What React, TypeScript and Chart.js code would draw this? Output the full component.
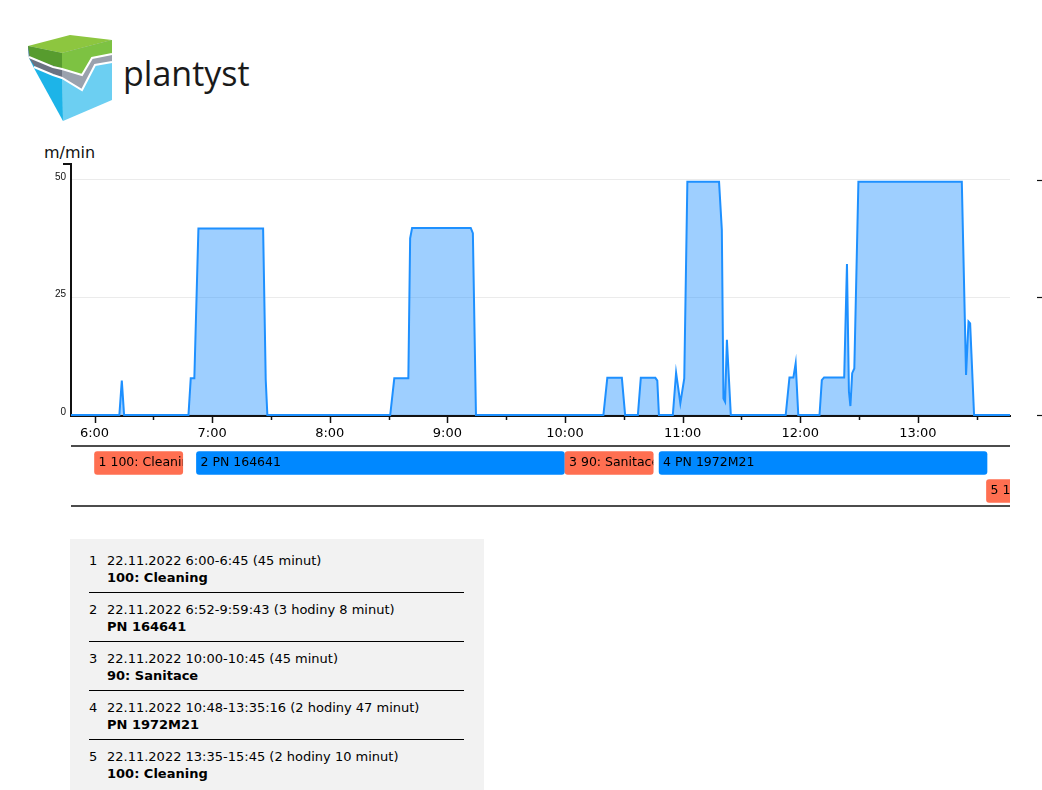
import React, { useEffect, useRef } from 'react';
import { Chart, registerables } from 'chart.js';

Chart.register(...registerables);

// ---- speed series (time of day, m/min) ----
const SPEED_TIMES = [
  '5:48', '6:12:40', '6:13:55', '6:15:05', '6:47:55', '6:49:05', '6:50:55', '6:53', '7:26', '7:27:20', '7:28:10',
  '8:30:50', '8:32:55', '8:40:05', '8:41', '8:42', '9:11:55', '9:13', '9:14:35',
  '10:19:35', '10:21:35', '10:29', '10:30:40', '10:37:10', '10:38:40', '10:46:05', '10:47:05', '10:47:55',
  '10:55', '10:56:40', '10:58:50', '11:00:50', '11:02:25', '11:18:35', '11:20', '11:20:50', '11:21:40', '11:22:35', '11:24:35',
  '11:52:35', '11:54:30', '11:56:30', '11:57:40', '11:59',
  '12:09:50', '12:11', '12:12:10', '12:22:25', '12:23:50', '12:24:50', '12:25:35', '12:26:30', '12:27:35', '12:29:40',
  '13:22:25', '13:24:35', '13:25:50', '13:26:40', '13:27:20', '13:28:40', '13:47',
];
const SPEED_VALUES = [
  0, 0, 7.3, 0, 0, 7.8, 7.8, 39.7, 39.7, 7.5, 0,
  0, 7.8, 7.8, 37.6, 39.8, 39.8, 38.7, 0,
  0, 7.9, 7.9, 0, 0, 7.9, 7.9, 7.3, 0,
  0, 9, 2.5, 7.8, 49.6, 49.6, 39.4, 3.5, 2.8, 16, 0,
  0, 8, 8, 11, 0,
  0, 7.4, 8, 8, 32.1, 5, 1.9, 8.9, 9.9, 49.6,
  49.6, 8.5, 19.9, 19.5, 13, 0, 0,
];

const X_MIN = '5:48';
const X_MAX = '13:47';
const HOUR_TICKS = ['6:00', '7:00', '8:00', '9:00', '10:00', '11:00', '12:00', '13:00'];
const Y_TICKS = [0, 25, 50];
const Y_MIN = -0.213;
const Y_MAX = 53.4;
const Y_UNIT = 'm/min';

// ---- jobs ----
const JOB_IDS = ['1', '2', '3', '4', '5'];
const JOB_NAMES = ['100: Cleaning', 'PN 164641', '90: Sanitace', 'PN 1972M21', '100: Cleaning'];
const JOB_STARTS = ['6:00', '6:52', '10:00', '10:48', '13:35'];
const JOB_ENDS = ['6:45', '9:59:43', '10:45', '13:35:16', '15:45'];
const JOB_ROWS = ['row1', 'row1', 'row1', 'row1', 'row2'];
const ROW_LABELS = ['row1', 'row2'];
const JOB_KINDS = ['stop', 'product', 'stop', 'product', 'stop'];
const JOB_DURATIONS = ['45 minut', '3 hodiny 8 minut', '45 minut', '2 hodiny 47 minut', '2 hodiny 10 minut'];
const JOB_DATE = '22.11.2022';

const KIND_COLORS: Record<string, string> = { stop: '#ff6f51', product: '#0088ff' };

const toHours = (t: string) => {
  const [h, m, s] = t.split(':').map(Number);
  return h + (m || 0) / 60 + (s || 0) / 3600;
};

const FONT = '"DejaVu Sans", Verdana, sans-serif';

export default function App() {
  const mainRef = useRef<HTMLCanvasElement>(null);
  const tlRef = useRef<HTMLCanvasElement>(null);

  useEffect(() => {
    const axisDecor = {
      id: 'axisDecor',
      afterDraw(chart: any) {
        const { ctx, chartArea, scales } = chart;
        const xs = scales.x;
        const ys = scales.y;
        ctx.save();
        ctx.strokeStyle = '#111';
        ctx.lineWidth = 1.5;
        // x ticks (major hours, minor halves)
        xs.ticks.forEach((t: any) => {
          const px = Math.round(xs.getPixelForValue(t.value)) + 0.5;
          const major = Math.abs(t.value - Math.round(t.value)) < 1e-6;
          ctx.beginPath();
          ctx.moveTo(px, chartArea.bottom + 1);
          ctx.lineTo(px, chartArea.bottom + (major ? 7 : 4));
          ctx.stroke();
        });
        // outer tick at top of y axis
        ctx.lineWidth = 2;
        ctx.beginPath();
        ctx.moveTo(chartArea.left - 8, chartArea.top);
        ctx.lineTo(chartArea.left, chartArea.top);
        ctx.stroke();
        // right side tick dashes
        ctx.lineWidth = 1.2;
        Y_TICKS.forEach((v) => {
          const py = Math.round(ys.getPixelForValue(v)) + 0.5;
          ctx.beginPath();
          ctx.moveTo(chart.width - 5, py);
          ctx.lineTo(chart.width, py);
          ctx.stroke();
        });
        ctx.restore();
      },
    };

    const main = new Chart(mainRef.current!, {
      type: 'line',
      data: {
        datasets: [
          {
            data: SPEED_TIMES.map((t, i) => ({ x: toHours(t), y: SPEED_VALUES[i] })),
            borderColor: 'rgb(30,144,255)',
            backgroundColor: 'rgba(30,144,255,0.43)',
            fill: 'origin',
            borderWidth: 2,
            pointRadius: 0,
            tension: 0,
          },
        ],
      },
      options: {
        responsive: false,
        animation: false,
        layout: { padding: { left: 0, right: 32, top: 24, bottom: 0 } },
        plugins: { legend: { display: false }, tooltip: { enabled: false } },
        scales: {
          x: {
            type: 'linear',
            min: toHours(X_MIN),
            max: toHours(X_MAX),
            afterBuildTicks: (s: any) => {
              const ticks: any[] = [];
              HOUR_TICKS.forEach((l) => {
                ticks.push({ value: toHours(l) });
                ticks.push({ value: toHours(l) + 0.5 });
              });
              s.ticks = ticks;
            },
            afterFit: (s: any) => {
              s.height = 30;
            },
            grid: { display: false, drawTicks: false },
            border: { display: true, color: '#111', width: 2 },
            ticks: {
              autoSkip: false,
              maxRotation: 0,
              padding: 10,
              color: '#000',
              font: { family: FONT, size: 13 },
              callback: (v: any) => HOUR_TICKS.find((l) => Math.abs(toHours(l) - Number(v)) < 1e-6) ?? '',
            },
          },
          y: {
            type: 'linear',
            min: Y_MIN,
            max: Y_MAX,
            afterBuildTicks: (s: any) => {
              s.ticks = Y_TICKS.map((v) => ({ value: v }));
            },
            afterFit: (s: any) => {
              s.width = 71;
            },
            grid: { color: '#ebebeb', lineWidth: 1, drawTicks: false },
            border: { display: true, color: '#111', width: 2 },
            ticks: {
              padding: 5,
              labelOffset: -3,
              color: '#111',
              font: { family: '"Liberation Sans", Arial, sans-serif', size: 10 },
            },
          },
        },
      },
      plugins: [axisDecor],
    } as any);

    const tlDecor = {
      id: 'tlDecor',
      afterDatasetsDraw(chart: any) {
        const { ctx, chartArea } = chart;
        const meta = chart.getDatasetMeta(0);
        ctx.save();
        meta.data.forEach((el: any, i: number) => {
          const { x, base, y, height } = el.getProps(['x', 'base', 'y', 'height'], true);
          const left = Math.min(x, base);
          const right = Math.min(Math.max(x, base), chartArea.right);
          if (right <= left) return;
          ctx.save();
          ctx.beginPath();
          ctx.rect(left, y - height / 2, right - left, height);
          ctx.clip();
          ctx.fillStyle = '#000';
          ctx.font = `12.5px ${FONT}`;
          ctx.textBaseline = 'middle';
          ctx.textAlign = 'left';
          ctx.fillText(`${JOB_IDS[i]} ${JOB_NAMES[i]}`, left + 4, y);
          ctx.restore();
        });
        ctx.strokeStyle = '#111';
        ctx.lineWidth = 1.5;
        [chartArea.top - 3, chartArea.bottom + 1].forEach((py: number) => {
          ctx.beginPath();
          ctx.moveTo(chartArea.left, py);
          ctx.lineTo(chartArea.right, py);
          ctx.stroke();
        });
        ctx.restore();
      },
    };

    const tl = new Chart(tlRef.current!, {
      type: 'bar',
      data: {
        labels: ROW_LABELS,
        datasets: [
          {
            data: JOB_IDS.map((_, i) => ({ x: [toHours(JOB_STARTS[i]), toHours(JOB_ENDS[i])], y: JOB_ROWS[i] })),
            backgroundColor: JOB_KINDS.map((k) => KIND_COLORS[k]),
            borderRadius: 3,
            borderSkipped: false,
            barThickness: 23,
          },
        ],
      },
      options: {
        indexAxis: 'y',
        responsive: false,
        animation: false,
        layout: { padding: { left: 71, right: 32, top: 9, bottom: 7 } },
        plugins: { legend: { display: false }, tooltip: { enabled: false } },
        scales: {
          x: { type: 'linear', min: toHours(X_MIN), max: toHours(X_MAX), display: false },
          y: { type: 'category', offset: true, display: false },
        },
      },
      plugins: [tlDecor],
    } as any);

    return () => {
      main.destroy();
      tl.destroy();
    };
  }, []);

  return (
    <div style={{ position: 'absolute', left: 0, top: 0, width: 1042, height: 790, overflow: 'hidden', background: '#fff' }}>
      <svg width={130} height={130} viewBox="0 0 130 130" style={{ position: 'absolute', left: 0, top: 0 }}>
        <polygon points="62,53 112,40 112,100 63,121" fill="#6ccff2" />
        <polygon points="28,46 62,53 63,121 35,70 29,58" fill="#1db4e8" />
        <polygon points="62,53 112,40 112,62 95,65 82,90 62,78" fill="#9aa1ad" />
        <polygon points="28,46 62,53 62,78 35,67 29,58" fill="#6b7282" />
        <polygon points="62,53 112,40 112,54 92,58 82,75 62,69" fill="#7dc242" />
        <polygon points="28,46 62,53 62,69 30,57" fill="#579c2e" />
        <polyline points="29,57 53,67 62,69 82,75 92,58 112,54" fill="none" stroke="#fff" strokeWidth={2} />
        <polyline points="34,67 53,75 62,78 82,90 95,65 112,62" fill="none" stroke="#fff" strokeWidth={2} />
        <polygon points="28,46 70,35 112,40 62,53" fill="#8dc63f" />
      </svg>
      <div
        style={{
          position: 'absolute',
          left: 123,
          top: 56,
          fontFamily: '"Open Sans", sans-serif',
          fontSize: 34,
          lineHeight: '34px',
          color: '#1a1a1a',
        }}
      >
        plantyst
      </div>
      <div
        style={{
          position: 'absolute',
          left: 44,
          top: 143,
          fontFamily: FONT,
          fontSize: 16,
          lineHeight: '20px',
          color: '#111',
        }}
      >
        {Y_UNIT}
      </div>
      <canvas ref={mainRef} width={1042} height={306} style={{ position: 'absolute', left: 0, top: 140 }} />
      <canvas ref={tlRef} width={1042} height={72} style={{ position: 'absolute', left: 0, top: 440 }} />
      <div
        style={{
          position: 'absolute',
          left: 70,
          top: 539,
          width: 414,
          height: 270,
          background: '#f2f2f2',
          boxSizing: 'border-box',
          padding: '5px 20px 0 19px',
          fontFamily: FONT,
          fontSize: 13,
          lineHeight: '17px',
          color: '#000',
        }}
      >
        {JOB_IDS.map((id, i) => (
          <div
            key={id}
            style={{
              display: 'flex',
              paddingTop: 8,
              paddingBottom: 6,
              borderBottom: i < JOB_IDS.length - 1 ? '1px solid #000' : 'none',
            }}
          >
            <div style={{ width: 18, flex: 'none' }}>{id}</div>
            <div>
              <div>{`${JOB_DATE} ${JOB_STARTS[i]}-${JOB_ENDS[i]} (${JOB_DURATIONS[i]})`}</div>
              <div style={{ fontWeight: 'bold' }}>{JOB_NAMES[i]}</div>
            </div>
          </div>
        ))}
      </div>
    </div>
  );
}
